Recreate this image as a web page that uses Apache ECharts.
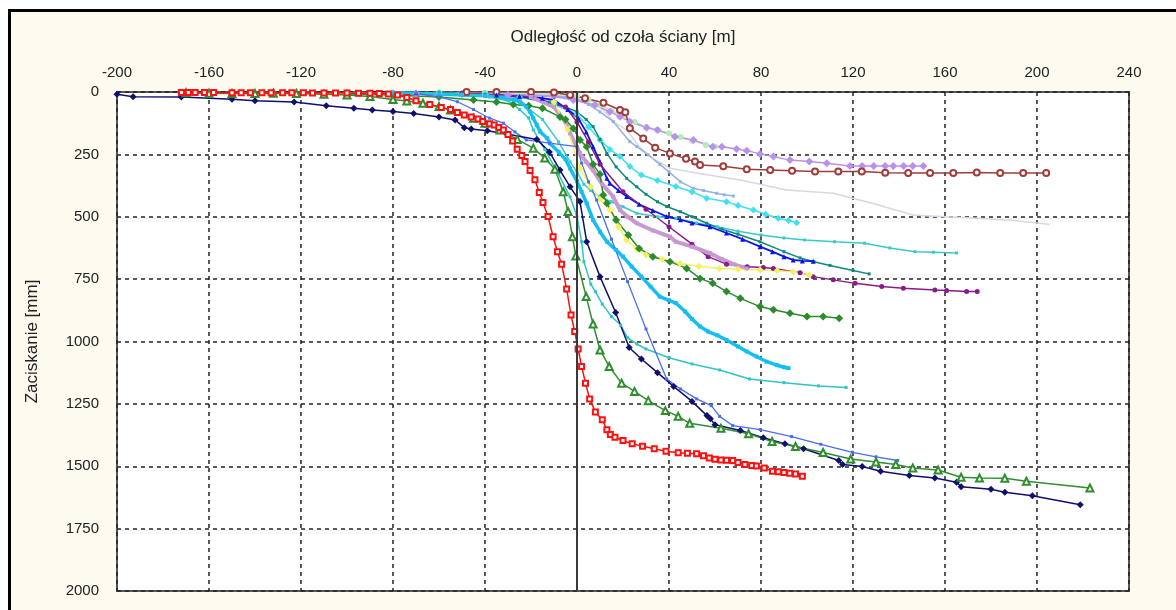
<!DOCTYPE html>
<html>
<head>
<meta charset="utf-8">
<script src="https://cdn.jsdelivr.net/npm/echarts@6/dist/echarts.min.js"></script>
<style>
  html, body { margin: 0; padding: 0; overflow: hidden; background: #fff; }
  #frame { position: absolute; left: 8px; top: 9px; width: 1200px; height: 640px;
           border-left: 3px solid #000; border-top: 3px solid #000; background: #fdfaef; }
  #chart { position: absolute; left: 0; top: 0; width: 1176px; height: 610px; }
</style>
</head>
<body>
<div id="frame"></div>
<div id="chart"></div>
<script>
// odczyty z wykresu: [odległość od czoła m, zaciskanie mm]
var xTicks = [-200, -160, -120, -80, -40, 0, 40, 80, 120, 160, 200, 240];
var yTicks = [0, 250, 500, 750, 1000, 1250, 1500, 1750, 2000];

var czerwona = [[-172,2],[-169,2],[-166,2],[-162,2],[-158,2],[-150,3],[-146,3],[-142,3],[-137,3],[-133,3],[-128,3],[-124,3],[-119,3],[-115,4],[-110,4],[-105,4],[-100,4],[-95,5],[-90,5],[-86,6],[-82,8],[-78,12],[-74,22],[-70,35],[-64,50],[-59,62],[-55,70],[-52,82],[-49,92],[-46,100],[-43,108],[-41,118],[-38,127],[-36,132],[-34,142],[-32,152],[-30,170],[-28,196],[-26,229],[-24,255],[-22.6,279],[-20.4,315],[-18.3,352],[-16.4,403],[-14.8,443],[-12.6,499],[-10.4,580],[-8.5,640],[-6.7,690],[-4.5,790],[-2.6,894],[-1,960],[0.5,1030],[2,1100],[3.7,1167],[5.5,1230],[8,1283],[11,1314],[13,1354],[14.5,1373],[16.5,1384],[20,1397],[24,1410],[28.5,1420],[33.6,1430],[38.7,1440],[44,1446],[48,1448],[52,1450],[55,1458],[57.5,1467],[60,1472],[62.6,1475],[65,1476],[67.7,1477],[70,1485],[73,1493],[76,1497],[78,1499],[81.4,1507],[85,1520],[87.5,1522],[90,1525],[92.5,1528],[95,1531],[98,1540]];
var granatowa = [[-200,9],[-193,19],[-172,20],[-150,29],[-140,35],[-123,40],[-109,55],[-97,65],[-89,72],[-80,78],[-71,86],[-60,100],[-53,112],[-49,143],[-46,148],[-39,155],[-30.6,168],[-17.5,190],[-12,240],[-7.4,313],[-3,380],[1.3,439],[4.2,600],[10,740],[16.8,884],[22.7,1024],[28,1070],[35,1125],[42,1180],[50,1240],[56.5,1297],[58,1310],[60,1334],[71,1357],[81,1386],[90.4,1410],[98.5,1430],[113.8,1477],[115.5,1493],[124,1501],[132,1520],[144.5,1537],[155.6,1547],[165,1564],[167,1582],[180,1592],[186,1604],[198,1618],[218.8,1654]];
var zielonaTrojkaty = [[-170,3],[-160,5],[-150,6],[-140,6],[-132,5],[-122,6],[-110,9],[-100,12],[-90,18],[-80,30],[-74,36],[-67,45],[-60,58],[-55,72],[-45,105],[-40,125],[-33.5,152],[-26,190],[-19,225],[-14,265],[-9.6,310],[-6,400],[-3.9,479],[-2,580],[-0.5,657],[4,820],[7,930],[10,1034],[14,1100],[19.4,1167],[25,1200],[31,1237],[38.4,1277],[44,1300],[49,1328],[62.6,1348],[74.6,1370],[84.8,1401],[95,1421],[107,1445],[119,1471],[130,1483],[138.6,1493],[146,1507],[157,1515],[167,1544],[175,1547],[186,1548],[195.4,1560],[223,1587]];
var niebieskaCienka = [[-70,5],[-60,20],[-52,39],[-45,70],[-38,105],[-32,125],[-27,160],[-22,192],[-12,205],[0,219],[2,285],[5,360],[8.5,433],[15,590],[22,760],[30,950],[39,1150],[45,1190],[52,1230],[58.4,1257],[62,1300],[67.7,1337],[79.7,1353],[93.3,1381],[106,1412],[119.8,1444],[130,1462],[139.4,1477]];
var blekitna = [[-80,3],[-60,8],[-50,12],[-40,15],[-32,22],[-27,32],[-24.8,39],[-22,60],[-20.4,79],[-19,105],[-17.5,132],[-16,159],[-13,185],[-11.7,206],[-8,240],[-5,270],[-3,306],[0,358],[2,400],[4.2,446],[7,513],[10,560],[13,600],[17,633],[20,660],[23.8,700],[28,740],[32,780],[36,820],[40,835],[43,846],[47,880],[50,910],[53.5,940],[57,960],[61,975],[65,994],[70,1020],[73.8,1040],[78,1060],[82.5,1081],[87,1095],[90,1103],[92,1107]];
var turkusowaA = [[-70,3],[-50,8],[-38,20],[-30,35],[-25,70],[-21,104],[-19,152],[-14,230],[-8,330],[-3,420],[0,500],[2,600],[3,680],[6,770],[8,800],[11,850],[15,900],[19,935],[22,985],[26,1010],[30,1030],[40,1065],[50,1090],[62,1114],[75,1150],[90,1165],[105,1178],[117,1184]];
var turkusowaB = [[-60,3],[-40,12],[-25,40],[-15,110],[-8,200],[-3,280],[0,320],[3,370],[6,395],[10,420],[15,440],[20,460],[26,486],[35,500],[43,506],[52,525],[61,540],[70,558],[80,573],[90,585],[99,593],[112,600],[125,606],[136,625],[147,640],[155,642],[165,645]];
var morska = [[-60,3],[-40,10],[-25,20],[-12,40],[-5,60],[0,79],[4,110],[7,139],[10,190],[13,246],[17,300],[21.6,346],[26,380],[30,410],[35,440],[39,459],[45,480],[50,500],[56.4,526],[63,550],[70,570],[79.6,600],[90,640],[97,665],[103,680],[110,695],[120,715],[127,729]];
var niebieska = [[-70,3],[-50,8],[-35,12],[-25,18],[-15,25],[-10,32],[-4,70],[0.6,106],[4,160],[7,219],[10,280],[13,346],[14.3,366],[18,395],[21.6,419],[27,450],[33,475],[39,499],[45,512],[50,525],[57.8,540],[65,565],[72,590],[79.6,620],[85,640],[90,660],[94,673],[98,677],[102.7,678]];
var brazowa = [[-48,0],[-35,0],[-20,0],[-10,2],[-3,12],[3.5,25],[11.5,43],[18.7,72],[21,81],[23,145],[28.8,186],[34,223],[40.4,246],[47.4,268],[51.3,279],[53.5,293],[63.6,298],[73.8,310],[84,313],[93.5,316],[103.5,319],[113.6,319],[123.8,319],[134,324],[144,325],[153.5,325],[163.6,325],[173.8,323],[184,325],[194,325],[204,325]];
var lawendowa = [[-100,3],[-90,5],[-80,5],[-70,6],[-60,7],[-50,8],[-40,10],[-30,12],[-20,15],[-10,18],[-1.6,32],[7.8,52],[14.3,79],[18.7,99],[23,119],[30.3,143],[35,152],[42.6,179],[50.6,192],[59,219],[63,219],[69.4,228],[73.8,235],[79.6,248],[85.4,259],[92.6,273],[101,279],[108.6,286],[118.7,297],[124,297],[129,297],[134,297],[137.5,297],[142,297],[146,297],[150.6,297]];
var bladozielona = [[-60,2],[-40,3],[-20,5],[-10,8],[0,15],[5,30],[10,50],[15,75],[20,95],[25,120],[30,140],[35,152],[40,165],[45,180],[50,195],[56,212],[60,218]];
var stalowa = [[-40,5],[-20,10],[-5,20],[0,30],[5,50],[10,80],[15.8,119],[23,199],[26,219],[31,252],[36,290],[40,320],[45,360],[50.6,386],[55,395],[60.7,406],[64,412],[68,417]];
var szara = [[-30,3],[-10,10],[0,25],[10,60],[17,126],[21.6,152],[27,219],[33,266],[40.4,306],[55,330],[71,353],[91,393],[111.4,406],[130,450],[146,493],[160,500],[174,506],[190,515],[205,530]];
var cyjanowa = [[-60,3],[-40,8],[-25,20],[-10,50],[0,90],[5,140],[10,192],[14.3,230],[18.7,259],[23,299],[28,333],[35,355],[43,379],[50,400],[56.4,426],[65,440],[70,455],[76.7,473],[82,490],[87.5,506],[92,515],[95.5,524]];
var fioletowa = [[-50,5],[-20,20],[-5,60],[0,120],[5,200],[10,290],[20,400],[30,470],[40,540],[50,610],[57,660],[65,690],[74,700],[81,703],[85.4,707],[97,724],[102.7,740],[111.4,753],[120.9,767],[132.5,780],[141.9,787],[155.6,794],[160.7,796],[169.4,800],[174,800]];
var sliwkowa = [[-20,20],[-10,60],[-5,120],[-3,166],[1.3,246],[4,280],[7,313],[11,370],[15.7,419],[18.7,473],[22,500],[26,526],[33,555],[40.4,580],[43,600],[50,620],[57.8,646],[63,670],[68,690],[73.8,707]];
var zolta = [[-10,40],[-4,150],[1.3,306],[6,380],[10,430],[14.3,473],[18,540],[21.6,593],[26,630],[30,653],[37,670],[44.8,687],[53,698],[62,707],[70,710],[79.6,713],[87,716],[94,720],[101,733]];
var zielonaRomby = [[-100,8],[-80,12],[-60,20],[-45,32],[-35,40],[-27.7,50],[-21,55],[-15,65],[-7.4,100],[-5,110],[-1.6,146],[1.3,192],[4.2,219],[7,290],[10,330],[11.4,413],[13,446],[17,513],[22.3,573],[27,627],[33,660],[40.4,680],[47.7,707],[53.5,747],[59,767],[65,800],[71,827],[79.6,860],[85.4,873],[92.6,887],[100,900],[107,900],[114,907]];

var font = '"Liberation Sans", Arial, sans-serif';

function linia(name, data, color, symbol, size, width) {
  return {
    name: name, type: 'line', data: data,
    symbol: symbol, symbolSize: size, showSymbol: symbol !== 'none',
    lineStyle: { color: color, width: width },
    itemStyle: { color: color },
    emphasis: { disabled: true }
  };
}

var series = [
  linia('szara', szara, '#d6d8e6', 'circle', 2, 1.5),
  linia('stalowa', stalowa, '#98b0e0', 'rect', 3, 1.5),
  linia('bladozielona', bladozielona, '#b6ecb6', 'circle', 6, 1.5),
  linia('lawendowa', lawendowa, '#b890ee', 'diamond', 8, 1.5),
  linia('brazowa', brazowa, '#a03c3c', 'emptyCircle', 6, 1.5),
  linia('turkusowaB', turkusowaB, '#3cc8c8', 'rect', 3, 1.5),
  linia('cyjanowa', cyjanowa, '#40e0f0', 'diamond', 7, 1.5),
  linia('morska', morska, '#0e8a7a', 'rect', 3, 1.5),
  linia('niebieska', niebieska, '#0a14e6', 'triangle', 5, 1.8),
  linia('fioletowa', fioletowa, '#8a1a8a', 'circle', 5, 1.5),
  linia('sliwkowa', sliwkowa, '#c898d0', 'rect', 4, 4),
  linia('zolta', zolta, '#f4f060', 'diamond', 7, 1.5),
  linia('zielonaRomby', zielonaRomby, '#2a8c2a', 'diamond', 8, 1.5),
  linia('blekitna', blekitna, '#14bff0', 'rect', 4, 3.5),
  linia('turkusowaA', turkusowaA, '#30c4c4', 'rect', 3, 1.5),
  linia('niebieskaCienka', niebieskaCienka, '#4a6ef0', 'rect', 3, 1.3),
  linia('granatowa', granatowa, '#10106e', 'diamond', 7, 1.5),
  linia('zielonaTrojkaty', zielonaTrojkaty, '#2f8f2f', 'emptyTriangle', 7, 1.5),
  linia('czerwona', czerwona, '#ff1010', 'emptyRect', 5, 1.5)
];

series[series.length - 1].markLine = {
  silent: true, symbol: 'none', animation: false,
  label: { show: false },
  lineStyle: { color: '#3a3a3a', type: 'solid', width: 2 },
  data: [{ xAxis: 0 }]
};

var chart = echarts.init(document.getElementById('chart'));
chart.setOption({
  animation: false,
  backgroundColor: 'transparent',
  grid: { left: 117, right: 47, top: 92, bottom: 19, show: true,
          backgroundColor: '#fff', borderColor: '#555', borderWidth: 2 },
  xAxis: {
    type: 'value', position: 'top',
    min: xTicks[0], max: xTicks[xTicks.length - 1], interval: 40,
    name: 'Odległość od czoła ściany [m]', nameLocation: 'middle', nameGap: 46,
    nameTextStyle: { fontFamily: font, fontSize: 17, color: '#222' },
    axisLine: { show: false }, axisTick: { show: false },
    axisLabel: { fontFamily: font, fontSize: 15, color: '#222', margin: 12 },
    splitLine: { show: true, lineStyle: { color: '#222', type: [4, 4], width: 1.5 } }
  },
  yAxis: {
    type: 'value', inverse: true,
    min: yTicks[0], max: yTicks[yTicks.length - 1], interval: 250,
    name: 'Zaciskanie [mm]', nameLocation: 'middle', nameGap: 76, nameRotate: 90,
    nameTextStyle: { fontFamily: font, fontSize: 17, color: '#222' },
    axisLine: { show: false }, axisTick: { show: false },
    axisLabel: { fontFamily: font, fontSize: 15, color: '#222', margin: 18,
                 formatter: function (v) { return String(v); } },
    splitLine: { show: true, lineStyle: { color: '#222', type: [4, 4], width: 1.5 } }
  },
  series: series
});
</script>
</body>
</html>
